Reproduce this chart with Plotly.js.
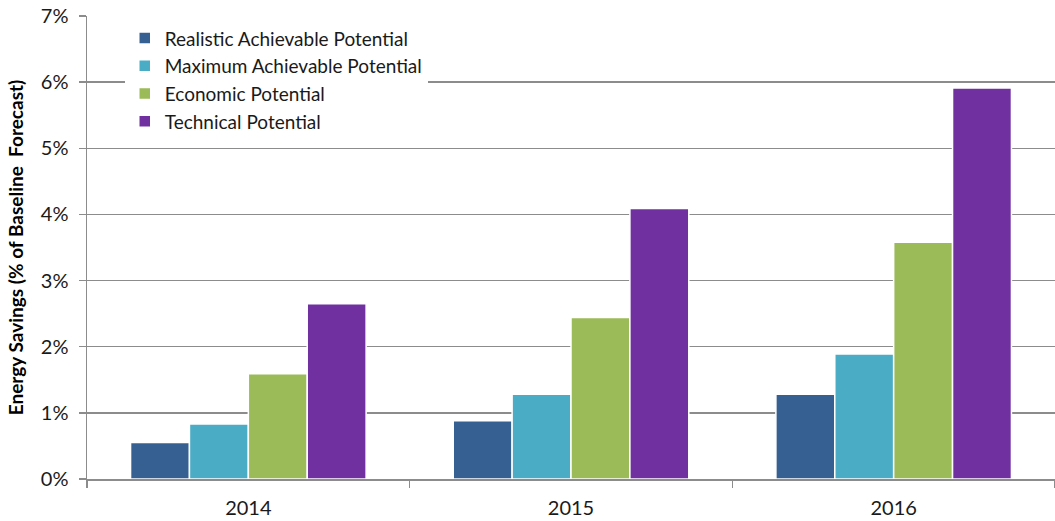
<!DOCTYPE html>
<html>
<head>
<meta charset="utf-8">
<script src="https://cdn.plot.ly/plotly-3.0.1.min.js"></script>
<style>html,body{margin:0;padding:0;background:#fff;}#chart{width:1055px;height:521px;}</style>
</head>
<body>
<div id="chart"></div>
<script>
const years = ["2014", "2015", "2016"];
const seriesNames = ["Realistic Achievable Potential", "Maximum Achievable Potential", "Economic Potential", "Technical Potential"];
const realistic = [0.55, 0.88, 1.28];
const maximum = [0.83, 1.28, 1.89];
const economic = [1.59, 2.44, 3.58];
const technical = [2.65, 4.09, 5.91];
const colors = ["#366092", "#4bacc6", "#9bbb59", "#7030a0"];

const values = [realistic, maximum, economic, technical];
const traces = values.map((v, i) => ({
  type: "bar",
  name: seriesNames[i],
  x: years,
  y: v.map(p => p / 100),
  marker: {color: colors[i], line: {color: "#ffffff", width: 1.5}},
  hoverinfo: "none"
}));

const fontFam = "Lato, 'Open Sans', sans-serif";
const layout = {
  width: 1055, height: 521,
  margin: {l: 87, r: 0, t: 16, b: 42},
  paper_bgcolor: "#ffffff",
  plot_bgcolor: "#ffffff",
  font: {family: fontFam, size: 20, color: "#1a1a1a"},
  barmode: "group",
  bargap: 0.27,
  bargroupgap: 0,
  showlegend: true,
  legend: {
    x: 0.039, y: 0.993, xanchor: "left", yanchor: "top",
    bgcolor: "#ffffff", borderwidth: 0,
    font: {family: fontFam, size: 19, color: "#1a1a1a"},
    tracegroupgap: 0,
    entrywidth: 345
  },
  xaxis: {
    type: "category",
    showline: true, linecolor: "#8c8c8c", linewidth: 1.5,
    ticks: "outside", tickson: "boundaries", ticklen: 7, tickcolor: "#8c8c8c", tickwidth: 1.5,
    showgrid: false, zeroline: false,
    ticklabelstandoff: 10,
    tickfont: {family: fontFam, size: 20, color: "#1a1a1a"}
  },
  yaxis: {
    range: [0, 0.07], tickformat: ".0%", dtick: 0.01,
    showline: true, linecolor: "#8c8c8c", linewidth: 1.5,
    ticks: "outside", ticklen: 7, tickcolor: "#8c8c8c", tickwidth: 1.5,
    showgrid: true, gridcolor: "#8c8c8c", gridwidth: 1.5,
    zeroline: false,
    ticklabelstandoff: 6,
    tickfont: {family: fontFam, size: 20, color: "#1a1a1a"},
    title: {text: "Energy Savings (% of Baseline  Forecast)", font: {family: fontFam, size: 19, color: "#000000", weight: "bold"}, standoff: 12}
  }
};

Plotly.newPlot("chart", traces, layout, {displayModeBar: false, staticPlot: true});
</script>
</body>
</html>
